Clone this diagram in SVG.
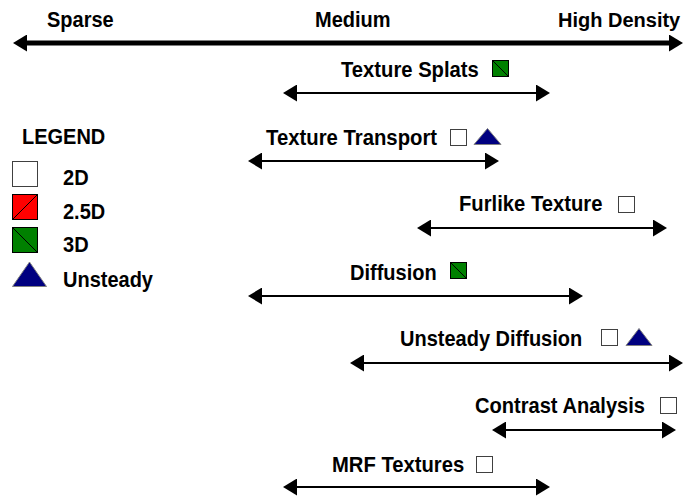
<svg xmlns="http://www.w3.org/2000/svg" width="683" height="499" viewBox="0 0 683 499">
<style>
text{font-family:"Liberation Sans",Arial,sans-serif;font-weight:bold;font-size:21.5px;fill:#000}
.b2d{fill:#fff;stroke:#404040;stroke-width:1}
.b3d{fill:#008000;stroke:#000;stroke-width:1}
.b25{fill:#ff0000;stroke:#000;stroke-width:1}
.diag{stroke:#000;stroke-width:1}
.tri{fill:#000080;stroke:#808080;stroke-width:1}
.ax{stroke:#000;stroke-width:5;fill:none}
.ar{stroke:#000;stroke-width:2;fill:none}
</style>
<defs>
<marker id="h" markerUnits="userSpaceOnUse" markerWidth="14" markerHeight="17" refX="4" refY="8.5" orient="auto-start-reverse" viewBox="0 0 14 17">
<path d="M0,0 L14,8.5 L0,17 Z" fill="#000"/>
</marker>
</defs>
<g id="axis-labels">
<text x="47" y="27" textLength="66.7" lengthAdjust="spacingAndGlyphs">Sparse</text>
<text x="315" y="27" textLength="75.6" lengthAdjust="spacingAndGlyphs">Medium</text>
<text x="558" y="27" style="font-size:20px">High Density</text>
</g>
<g id="connectors">
<line class="ax" x1="23" y1="43" x2="673" y2="43" marker-start="url(#h)" marker-end="url(#h)"/>
<line class="ar" x1="293" y1="93" x2="540" y2="93" marker-start="url(#h)" marker-end="url(#h)"/>
<line class="ar" x1="258" y1="161" x2="489" y2="161" marker-start="url(#h)" marker-end="url(#h)"/>
<line class="ar" x1="427" y1="228" x2="657" y2="228" marker-start="url(#h)" marker-end="url(#h)"/>
<line class="ar" x1="258" y1="296" x2="573" y2="296" marker-start="url(#h)" marker-end="url(#h)"/>
<line class="ar" x1="360" y1="363" x2="673" y2="363" marker-start="url(#h)" marker-end="url(#h)"/>
<line class="ar" x1="502" y1="430" x2="666" y2="430" marker-start="url(#h)" marker-end="url(#h)"/>
<line class="ar" x1="293" y1="487" x2="540" y2="487" marker-start="url(#h)" marker-end="url(#h)"/>
</g>
<g id="legend">
<text x="22" y="144" textLength="83.3" lengthAdjust="spacingAndGlyphs">LEGEND</text>
<rect class="b2d" x="12.5" y="161.5" width="25" height="25"/>
<text x="63" y="185" textLength="25.6" lengthAdjust="spacingAndGlyphs">2D</text>
<rect class="b25" x="12.5" y="194.5" width="25" height="25"/>
<line class="diag" x1="12.5" y1="219.5" x2="37.5" y2="194.5"/>
<text x="63" y="219" textLength="42.2" lengthAdjust="spacingAndGlyphs">2.5D</text>
<rect class="b3d" x="12.5" y="227.5" width="25" height="25"/>
<line class="diag" x1="12.5" y1="227.5" x2="37.5" y2="252.5"/>
<text x="63" y="252" textLength="25.6" lengthAdjust="spacingAndGlyphs">3D</text>
<polygon class="tri" points="12.5,286.5 46.5,286.5 29.5,262"/>
<text x="63" y="287" textLength="90" lengthAdjust="spacingAndGlyphs">Unsteady</text>
</g>
<g id="texture-splats">
<text x="341" y="77" textLength="137.8" lengthAdjust="spacingAndGlyphs">Texture Splats</text>
<rect class="b3d" x="492.5" y="60.5" width="16" height="16"/>
<line class="diag" x1="492.5" y1="60.5" x2="508.5" y2="76.5"/>
</g>
<g id="texture-transport">
<text x="266" y="145" textLength="171.1" lengthAdjust="spacingAndGlyphs">Texture Transport</text>
<rect class="b2d" x="450.5" y="129.5" width="16" height="16"/>
<polygon class="tri" points="474,144.5 501,144.5 487.5,128.5"/>
</g>
<g id="furlike-texture">
<text x="459" y="211" textLength="143.4" lengthAdjust="spacingAndGlyphs">Furlike Texture</text>
<rect class="b2d" x="618.5" y="196.5" width="16" height="16"/>
</g>
<g id="diffusion">
<text x="350" y="280" textLength="86.7" lengthAdjust="spacingAndGlyphs">Diffusion</text>
<rect class="b3d" x="450.5" y="262.5" width="16" height="16"/>
<line class="diag" x1="450.5" y1="262.5" x2="466.5" y2="278.5"/>
</g>
<g id="unsteady-diffusion">
<text x="400" y="346" textLength="182.2" lengthAdjust="spacingAndGlyphs">Unsteady Diffusion</text>
<rect class="b2d" x="601.5" y="329.5" width="16" height="16"/>
<polygon class="tri" points="626,345.5 652,345.5 639,328.5"/>
</g>
<g id="contrast-analysis">
<text x="475" y="413" textLength="170" lengthAdjust="spacingAndGlyphs">Contrast Analysis</text>
<rect class="b2d" x="660.5" y="397.5" width="16" height="16"/>
</g>
<g id="mrf-textures">
<text x="332" y="472" textLength="132.2" lengthAdjust="spacingAndGlyphs">MRF Textures</text>
<rect class="b2d" x="476.5" y="456.5" width="16" height="16"/>
</g>
</svg>
